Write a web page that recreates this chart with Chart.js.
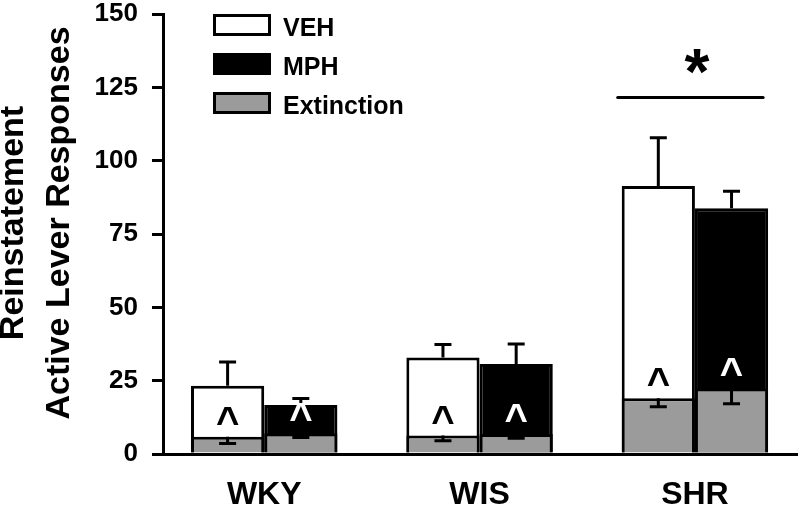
<!DOCTYPE html>
<html><head><meta charset="utf-8">
<script src="https://cdn.jsdelivr.net/npm/chart.js@4"></script>
<style>html,body{margin:0;padding:0;background:#fff}#wrap{width:800px;height:512px}</style>
</head><body><div id="wrap"><canvas id="c" width="800" height="512"></canvas></div>
<script>
const categories = ['WKY', 'WIS', 'SHR'];
const vehValues = [23.3, 32.9, 91.4];
const vehErrors = [8.1, 4.4, 16.4];
const mphValues = [16.7, 30.7, 83.8];
const mphErrors = [2.2, 6.8, 5.8];
const extVehValues = [5.9, 6.3, 19.0];
const extVehErrors = [2.3, 1.8, 2.9];
const extMphValues = [7.1, 6.8, 22.4];
const extMphErrors = [1.5, 1.4, 5.3];
const yTickStep = 25;
const yMin = 0, yMax = 150;
const yTitle = ['Reinstatement', 'Active Lever Responses'];
const legendLabels = ['VEH', 'MPH', 'Extinction'];
const caretMark = '^';
const sigMark = '*';
const sigValue = 121.5;

const FONT = 'Liberation Sans, Arial, Helvetica, sans-serif';
const GREY = '#9b9b9b';
Chart.defaults.font.family = FONT;

const toPts = arr => arr.map((v, i) => ({ x: i, y: v }));

const annot = {
  id: 'annot',
  afterDatasetsDraw(chart) {
    const ctx = chart.ctx, ys = chart.scales.y;
    const metas = [0, 1, 2, 3].map(i => chart.getDatasetMeta(i));
    const errs = [extVehErrors, extMphErrors, vehErrors, mphErrors];
    const vals = [extVehValues, extMphValues, vehValues, mphValues];
    const dirs = [-1, -1, 1, 1];
    ctx.save();
    ctx.strokeStyle = '#000';
    ctx.lineWidth = 3;
    metas.forEach((m, di) => {
      m.data.forEach((bar, i) => {
        const v = vals[di][i], e = errs[di][i];
        const y0 = ys.getPixelForValue(v);
        const y1 = ys.getPixelForValue(v + dirs[di] * e);
        ctx.beginPath();
        ctx.moveTo(bar.x, y0); ctx.lineTo(bar.x, y1);
        ctx.moveTo(bar.x - 8.5, y1); ctx.lineTo(bar.x + 8.5, y1);
        ctx.stroke();
      });
    });
    // carets
    ctx.font = 'bold 40px ' + FONT;
    ctx.textAlign = 'center';
    ctx.textBaseline = 'alphabetic';
    const cm = ctx.measureText(caretMark);
    const cOff = (cm.actualBoundingBoxAscent - cm.actualBoundingBoxDescent) / 2;
    [[2, extVehValues, '#000'], [3, extMphValues, '#fff']].forEach(([di, ev, col]) => {
      metas[di].data.forEach((bar, i) => {
        const cy = ys.getPixelForValue(ev[i]) - 21;
        ctx.fillStyle = col;
        ctx.fillText(caretMark, bar.x, cy + cOff);
      });
    });
    // significance
    const vb = metas[2].data[2], mb = metas[3].data[2];
    const ly = ys.getPixelForValue(sigValue);
    ctx.lineCap = 'round';
    ctx.beginPath();
    ctx.moveTo(vb.x - vb.width / 2 - 4, ly);
    ctx.lineTo(mb.x + mb.width / 2 - 5, ly);
    ctx.stroke();
    ctx.font = 'bold 64px ' + FONT;
    ctx.fillStyle = '#000';
    const sm = ctx.measureText(sigMark);
    const sOff = (sm.actualBoundingBoxAscent - sm.actualBoundingBoxDescent) / 2;
    ctx.fillText(sigMark, (vb.x + mb.x) / 2 + 2, ly - 36 + sOff);
    ctx.restore();
  },
  afterDraw(chart) {
    const ctx = chart.ctx, ca = chart.chartArea;
    ctx.save();
    // legend
    const fills = ['#fff', '#000', GREY];
    const bx = ca.left + 50, bw = 58, bh = 22;
    ctx.font = 'bold 25px ' + FONT;
    ctx.textAlign = 'left';
    ctx.textBaseline = 'alphabetic';
    legendLabels.forEach((lab, i) => {
      const by = ca.top + i * 39;
      ctx.fillStyle = fills[i];
      ctx.fillRect(bx, by, bw, bh);
      ctx.strokeStyle = '#000';
      ctx.lineWidth = 3;
      ctx.strokeRect(bx + 1.5, by + 1.5, bw - 3, bh - 3);
      ctx.fillStyle = '#000';
      ctx.fillText(lab, bx + bw + 12, by + bh);
    });
    // y title
    ctx.font = 'bold 34px ' + FONT;
    ctx.textAlign = 'center';
    ctx.textBaseline = 'middle';
    const cy = (ca.top + ca.bottom) / 2 - 11;
    const xs = [13.5, 60];
    yTitle.forEach((t, i) => {
      ctx.save();
      ctx.translate(xs[i], cy);
      ctx.rotate(-Math.PI / 2);
      ctx.fillText(t, 0, 0);
      ctx.restore();
    });
    ctx.restore();
  }
};

new Chart(document.getElementById('c'), {
  type: 'bar',
  data: {
    datasets: [
      { label: 'Extinction', data: toPts(extVehValues), stack: 'veh', backgroundColor: GREY, borderColor: '#000', borderWidth: 3 },
      { label: 'Extinction', data: toPts(extMphValues), stack: 'mph', backgroundColor: GREY, borderColor: '#000', borderWidth: 3 },
      { label: 'VEH', data: toPts(vehValues), stack: 'veh', backgroundColor: '#fff', borderColor: '#000', borderWidth: 3 },
      { label: 'MPH', data: toPts(mphValues), stack: 'mph', backgroundColor: '#000', borderColor: '#000', borderWidth: 3 }
    ]
  },
  options: {
    responsive: false,
    animation: false,
    categoryPercentage: 0.68,
    barPercentage: 1.0,
    layout: { padding: { left: 0, right: 3, top: 14, bottom: 0 } },
    plugins: { legend: { display: false }, tooltip: { enabled: false } },
    scales: {
      x: {
        type: 'linear', stacked: true, offset: false, min: -0.47, max: 2.474,
        afterBuildTicks: s => { s.ticks = categories.map((c, i) => ({ value: i })); },
        afterFit: s => { s.height = 58; },
        grid: { display: false, drawTicks: false },
        border: { display: true, color: '#000', width: 3 },
        ticks: { callback: v => categories[v], font: { size: 32, weight: 'bold' }, color: '#000', padding: 22, maxRotation: 0, autoSkip: false }
      },
      y: {
        stacked: false, min: yMin, max: yMax,
        afterFit: s => { s.width = 163; s.paddingTop = 0; s.paddingBottom = 0; },
        ticks: { stepSize: yTickStep, font: { size: 26, weight: 'bold', lineHeight: 1.0 }, color: '#000', padding: 14 },
        grid: { drawOnChartArea: false, drawTicks: true, tickLength: 11, lineWidth: 3, color: '#000' },
        border: { display: true, color: '#000', width: 3 }
      }
    }
  },
  plugins: [annot]
});
</script></body></html>
